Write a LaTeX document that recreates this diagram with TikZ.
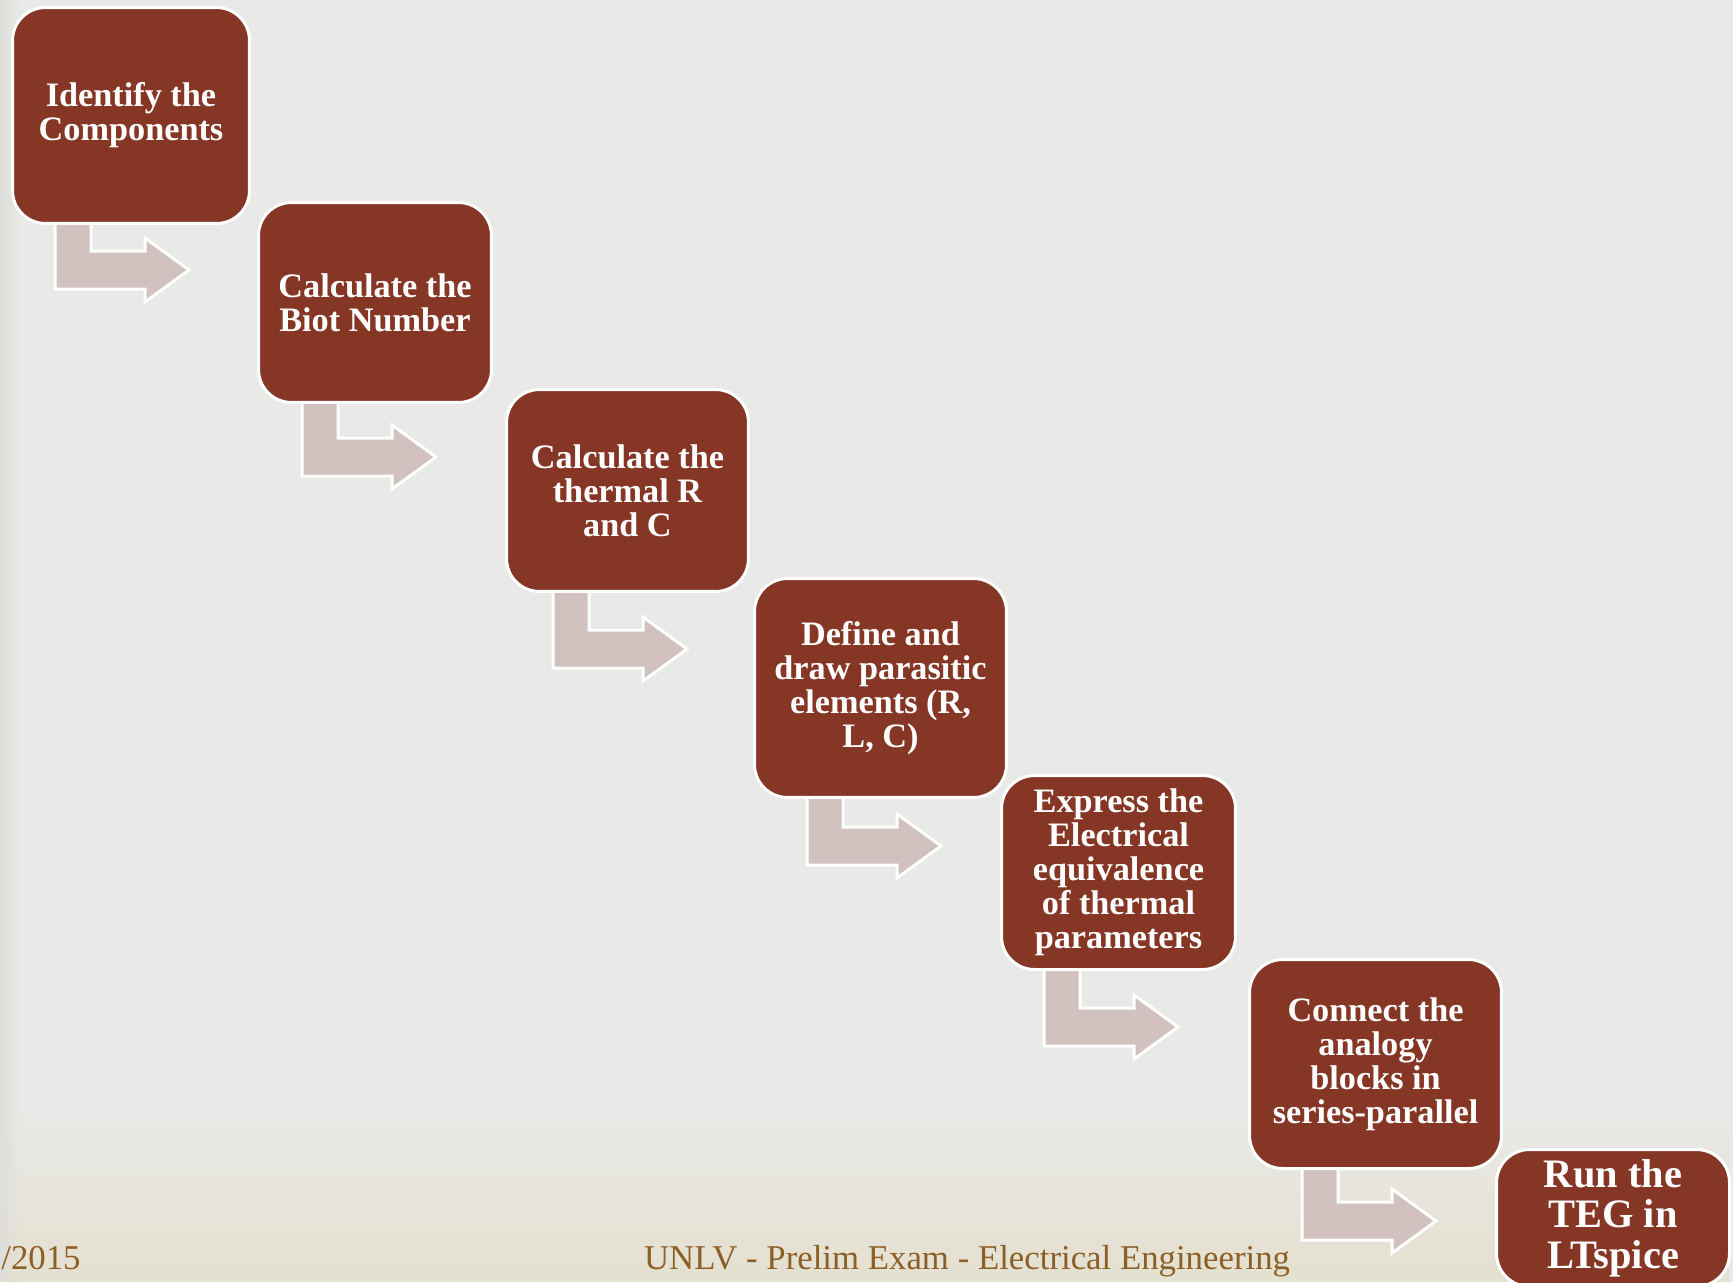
\documentclass[tikz,border=0pt]{standalone}
\usepackage{fontspec}
\setmainfont{Liberation Serif}
\usetikzlibrary{fadings}
\definecolor{slidebg}{RGB}{233,233,231}
\definecolor{slidebeige}{RGB}{229,225,208}
\definecolor{slideedge}{RGB}{222,222,218}
\definecolor{boxbrown}{RGB}{134,54,37}
\definecolor{arrowpink}{RGB}{209,193,191}
\definecolor{footbrown}{RGB}{140,95,38}
\tikzset{
  stepbox/.style={draw=white, line width=0.06cm, fill=boxbrown, rounded corners=0.66cm,
    text=white, align=center, inner sep=0pt, font=\fontsize{19.5}{19.4}\selectfont\bfseries},
  bentarrow/.style={draw=white, line width=0.06cm, fill=arrowpink, line join=miter},
  foottext/.style={text=footbrown, inner sep=0pt, font=\fontsize{19.8}{22}\selectfont}
}
\begin{document}
\begin{tikzpicture}[x=0.02cm, y=-0.02cm]
% slide background
\fill [slidebg] (0,0) rectangle (1733,1282);
\fill [slidebeige, path fading=north] (0,1110) rectangle (1733,1282);
\fill [slideedge, path fading=east] (0,0) rectangle (20,1282);
\useasboundingbox (0,0) rectangle (1733,1282);
% bent arrows (drawn first, boxes sit on their stems)
\draw [bentarrow] (55,220) -- (55,289) -- (145,289) -- (145,302) -- (189,270) -- (145,238) -- (145,251) -- (91,251) -- (91,220) -- cycle;
\draw [bentarrow] (302,398) -- (302,476) -- (392,476) -- (392,489) -- (436,457) -- (392,425) -- (392,438) -- (338,438) -- (338,398) -- cycle;
\draw [bentarrow] (553,588) -- (553,668) -- (643,668) -- (643,681) -- (687,649) -- (643,617) -- (643,630) -- (589,630) -- (589,588) -- cycle;
\draw [bentarrow] (807,794) -- (807,865) -- (897,865) -- (897,878) -- (941,846) -- (897,814) -- (897,827) -- (843,827) -- (843,794) -- cycle;
\draw [bentarrow] (1044,966) -- (1044,1046) -- (1134,1046) -- (1134,1059) -- (1178,1027) -- (1134,995) -- (1134,1008) -- (1080,1008) -- (1080,966) -- cycle;
\draw [bentarrow] (1302,1165) -- (1302,1240) -- (1392,1240) -- (1392,1253) -- (1436,1221) -- (1392,1189) -- (1392,1202) -- (1338,1202) -- (1338,1165) -- cycle;
% process steps
\node [stepbox, minimum width=4.74cm, minimum height=4.32cm] (b1) at (131,115.5) {Identify the\\Components};
\node [stepbox, minimum width=4.66cm, minimum height=4.00cm] (b2) at (375,302.5) {Calculate the\\Biot Number};
\node [stepbox, minimum width=4.84cm, minimum height=4.04cm] (b3) at (627.5,490.5) {Calculate the\\thermal R\\and C};
\node [stepbox, minimum width=5.04cm, minimum height=4.38cm] (b4) at (880.5,688) {Define and\\draw parasitic\\elements (R,\\L, C)};
\node [stepbox, minimum width=4.68cm, minimum height=3.88cm] (b5) at (1118.5,872.5) {Express the\\Electrical\\equivalence\\of thermal\\parameters};
\node [stepbox, minimum width=5.04cm, minimum height=4.18cm] (b6) at (1375.5,1064) {Connect the\\analogy\\blocks in\\series-parallel};
\node [stepbox, minimum width=4.66cm, minimum height=2.74cm,
  font=\fontsize{23}{23}\selectfont\bfseries] (b7) at (1613,1218) {Run the\\TEG in\\LTspice};
% footer
\node [foottext, anchor=base west] (date) at (1,1269) {/2015};
\node [foottext, anchor=base] (footer) at (967,1269) {UNLV - Prelim Exam - Electrical Engineering};
\end{tikzpicture}
\end{document}
